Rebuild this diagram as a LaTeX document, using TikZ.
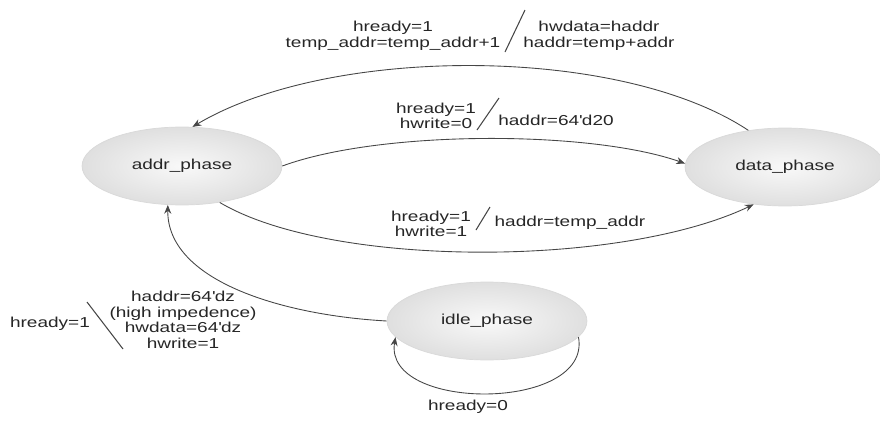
\documentclass[tikz,border=0pt]{standalone}
\usepackage{fontspec}
\setmainfont{Liberation Sans}[FakeStretch=1.32]
\usetikzlibrary{shapes.geometric,arrows.meta}

\begin{document}
\begin{tikzpicture}[x=0.02cm,y=-0.02cm,
	state/.style={ellipse, draw=gray!30, inner color=gray!5, outer color=gray!25,
		minimum width=4cm, minimum height=1.56cm, inner sep=0pt,
		font=\fontsize{8.2}{8.9}\selectfont, text=black!85},
	lbl/.style={align=center, inner sep=0pt, font=\fontsize{8.2}{8.9}\selectfont, text=black!85},
	arr/.style={draw=gray!55!black, line width=0.5pt, -{Stealth[length=5pt,width=4pt]}},
	sep/.style={draw=gray!55!black, line width=0.6pt}]
	% 画布大小
	\useasboundingbox (0,0) rectangle (880,423);
	
	% 三个状态
	\node[state] (addr) at (182,166) {addr\_phase};
	\node[state] (data) at (785,167) {data\_phase};
	\node[state] (idle) at (487,321) {idle\_phase};
	
	% 状态之间的转移
	\draw[arr] (data.135) .. controls (620,45) and (330,45) .. (addr.75);
	\draw[arr] (addr.east) .. controls (380,130) and (590,130) .. (data.178);
	\draw[arr] (addr.-44) .. controls (330,268) and (620,268) .. (data.230);
	\draw[arr] (idle.west) .. controls (280,315) and (167,280) .. (addr.250);
	\draw[arr] (idle.-10) .. controls (592,412) and (383,412) .. (idle.190);
	
	% 上方转移的条件和动作
	\node[lbl] (topcond) at (393,36) {hready=1\\temp\_addr=temp\_addr+1};
	\node[lbl] (topact) at (599,36) {hwdata=haddr\\haddr=temp+addr};
	\draw[sep] (525,10) -- (505,52);
	
	% 中间转移
	\node[lbl] (midcond) at (436,116) {hready=1\\hwrite=0};
	\node[lbl] (midact) at (556,120) {haddr=64\textquotesingle d20};
	\draw[sep] (499,98) -- (477,130);
	
	% 下方转移
	\node[lbl] (lowcond) at (431,224) {hready=1\\hwrite=1};
	\node[lbl] (lowact) at (570,223) {haddr=temp\_addr};
	\draw[sep] (490,207) -- (476,230);
	
	% 左侧转移
	\node[lbl] (leftcond) at (50,324) {hready=1};
	\node[lbl] (leftact) at (183,320) {haddr=64\textquotesingle dz\\(high impedence)\\hwdata=64\textquotesingle dz\\hwrite=1};
	\draw[sep] (87,302) -- (123,349);
	
	% 自环
	\node[lbl] (loopcond) at (468,407) {hready=0};
\end{tikzpicture}
\end{document}
